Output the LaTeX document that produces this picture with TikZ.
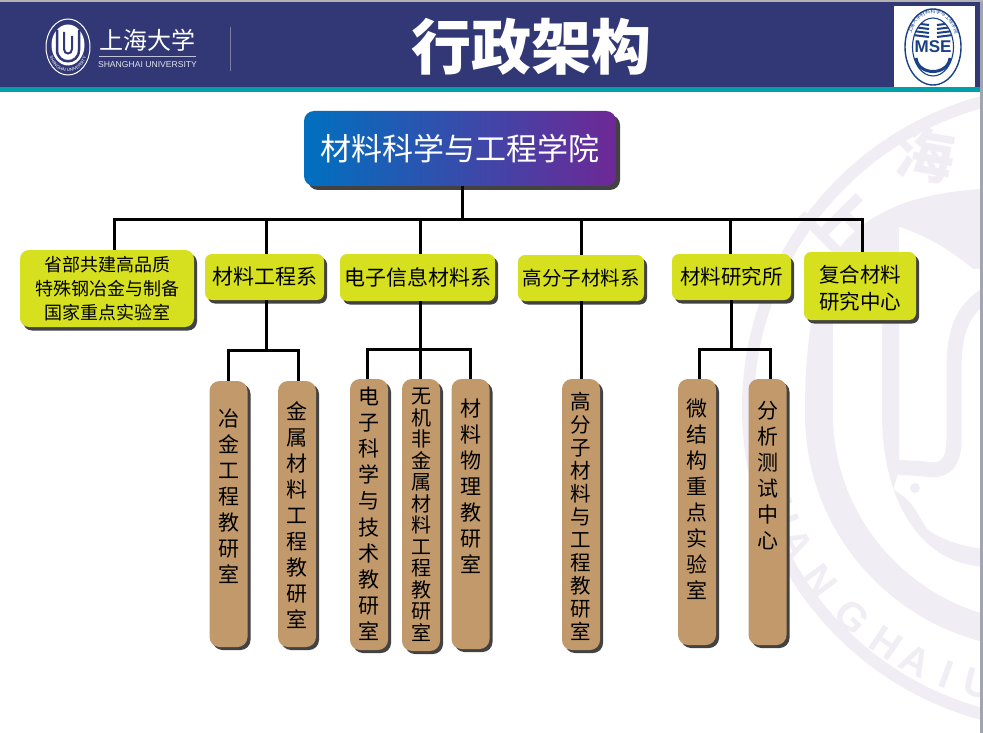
\documentclass[tikz,border=0pt]{standalone}
\usepackage{fontspec}
\newfontfamily\cjk{Noto Sans CJK SC}
\newfontfamily\lat{Liberation Sans}
\usetikzlibrary{shadows,decorations.text}
\definecolor{navybar}{RGB}{50,56,118}
\definecolor{tealbar}{RGB}{0,160,170}
\definecolor{edgegray}{RGB}{160,165,175}
\definecolor{wmark}{RGB}{241,237,245}
\definecolor{deptyellow}{RGB}{214,224,30}
\definecolor{labbrown}{RGB}{194,153,107}
\definecolor{shadowgray}{RGB}{66,66,66}
\definecolor{topblue}{RGB}{0,112,192}
\definecolor{topmid}{RGB}{65,65,155}
\definecolor{toppurple}{RGB}{110,40,150}
\definecolor{msebule}{RGB}{25,65,135}
% vertical label: height, top gap, line distance, size
\newcommand{\labcell}[5][21]{\parbox[c][#2pt][t]{34pt}{\fontsize{#1}{#4}\selectfont\centering\vspace*{#3pt}#5}}
\tikzset{
  conn/.style={line width=3pt, black},
  deptbox/.style={fill=deptyellow, rounded corners=7pt, inner sep=0pt, align=center,
    font=\cjk\fontsize{21}{27}\selectfont,
    drop shadow={shadow xshift=3pt, shadow yshift=-3.5pt, fill=shadowgray, opacity=1, shadow scale=1}},
  labbox/.style={fill=labbrown, rounded corners=10pt, inner sep=0pt, minimum width=38pt, font=\cjk,
    drop shadow={shadow xshift=3pt, shadow yshift=-3pt, fill=shadowgray, opacity=1, shadow scale=1}},
  topbox/.style={left color=topblue, middle color=topmid, right color=toppurple, rounded corners=10pt,
    inner sep=0pt, text=white, font=\cjk\fontsize{31}{36}\selectfont,
    drop shadow={shadow xshift=4pt, shadow yshift=-4pt, fill=shadowgray, opacity=1, shadow scale=1}},
  wmletter/.style={text=wmark, font=\lat\bfseries\fontsize{40}{40}\selectfont}
}
\begin{document}
\begin{tikzpicture}[x=1pt, y=-1pt]
  \useasboundingbox (0,0) rectangle (983,733);
  \fill[white] (0,0) rectangle (983,733);
  % watermark
  \begin{scope}
    \clip (0,92) rectangle (980,733);
    \draw[wmark, line width=12pt] (1065,408) circle (317pt);
    \fill[wmark] (1041,187) .. controls (940,187) and (900,200) .. (867,222)
      .. controls (825,250) and (805,300) .. (805,414)
      .. controls (805,544) and (911,649) .. (1041,649) -- cycle;
    \fill[white] (833,300) -- (833,414) .. controls (833,528) and (927,622) .. (1041,622)
      -- (1041,269) -- (973,269) .. controls (950,250) and (925,235) .. (899,227) -- (899,300) -- cycle;
    \fill[wmark] (882,290) -- (882,414) .. controls (882,500) and (920,567) .. (990,567) -- (990,550)
      .. controls (950,545) and (935,535) .. (927,529) .. controls (915,510) and (910,497) .. (893,490)
      -- (899,470) -- (899,290) -- cycle;
    \draw[wmark, line width=15pt] (995,290) .. controls (965,305) and (954,325) .. (954,370) -- (954,440)
      .. controls (954,468) and (940,472) .. (925,469) -- (895,467);
    \fill[wmark] (915,488) circle (5pt);
    \node[text=wmark, rotate=-45, font=\cjk\bfseries\fontsize{66}{66}\selectfont] (wmshang) at (840,219) {上};
    \node[text=wmark, rotate=-10, font=\cjk\bfseries\fontsize{58}{58}\selectfont] (wmhai) at (926,155) {海};
    \foreach \ltr/\ang in {S/76, H/69, A/62, N/53, G/43, H/34, A/27, I/20, U/13}
      \node[wmletter, rotate=-\ang] at ({1041-277*sin(\ang)},{414+277*cos(\ang)}) {\ltr};
  \end{scope}
  % header band
  \fill[edgegray] (980,0) rectangle (983,733);
  \fill[black!30] (0,0) rectangle (983,2);
  \fill[navybar] (0,2) rectangle (980,87);
  \fill[tealbar] (0,87) rectangle (980,92);
  \node[text=white, font=\cjk\bfseries\fontsize{60}{60}\selectfont] (title) at (531,47) {行政架构};
  % university logo
  \draw[white, line width=1pt] (68,47) ellipse (22pt and 28pt);
  \fill[white] (68,45) ellipse (16.5pt and 20.5pt);
  \draw[navybar, line width=2.5pt] (57,30) -- (57,50) .. controls (57,65) and (79,65) .. (79,50) -- (79,30);
  \draw[navybar, line width=2pt] (64,32) -- (64,49) .. controls (64,55) and (72,55) .. (72,49) -- (72,36);
  \path[decorate, decoration={text along path, text align=center,
      text={|\lat\fontsize{4.4}{5}\selectfont\color{white}|SHANGHAI UNIVERSITY}}]
    (48,45) .. controls (48,62) and (56,71.5) .. (68,71.5) .. controls (80,71.5) and (88,62) .. (88,45);
  \node[text=white, font=\cjk\fontsize{24}{24}\selectfont] (shutext) at (147,40) {上海大学};
  \draw[white!70!navybar, line width=0.7pt] (99,56) -- (196,56);
  \node[text=white!85!navybar, font=\lat\fontsize{8.6}{9}\selectfont] (shuname) at (147.5,65) {SHANGHAI UNIVERSITY};
  \draw[white!35!navybar, line width=1pt] (230,27) -- (230,71);
  % MSE logo
  \fill[white] (894,6) rectangle (975,87);
  \draw[msebule, line width=1.4pt] (933,47) ellipse (28pt and 38pt);
  \draw[msebule, line width=1.1pt] (933,47) ellipse (20.5pt and 29pt);
  \begin{scope}
    \clip (933,47) ellipse (20.5pt and 29pt);
    \foreach \yy in {22,26,30,34}
      \draw[msebule, line width=2pt] (905,\yy) -- (929,\yy+3) (937,\yy+3) -- (961,\yy);
    \draw[msebule, line width=3pt] (916,58) .. controls (918,76) and (948,76) .. (950,58);
  \end{scope}
  \node[text=msebule, font=\lat\bfseries\fontsize{17}{17}\selectfont] (msetext) at (933,47) {MSE};
  \path[decorate, decoration={text along path, text align=center,
      text={|\cjk\fontsize{5}{6}\selectfont\color{msebule}|上海大学材料科学与工程学院}}]
    (909.5,50) .. controls (909,25) and (920,13.5) .. (933,13.5) .. controls (946,13.5) and (957,25) .. (956.5,50);
  % college and departments
  \node[topbox, minimum width=312pt, minimum height=75pt] (college) at (460,148.5) {材料科学与工程学院};
  \coordinate (bus) at (462,219);
  \draw[conn] ([xshift=2pt]college.south) -- (bus);
  \node[deptbox, minimum width=174pt, minimum height=77pt, rounded corners=9pt,
    font=\cjk\fontsize{18}{24}\selectfont] (steellab) at (107,288.5)
    {省部共建高品质\\特殊钢冶金与制备\\国家重点实验室};
  \node[deptbox, minimum width=119pt, minimum height=46pt] (matdept) at (264.5,277) {材料工程系};
  \node[deptbox, minimum width=155pt, minimum height=47pt] (elecdept) at (417.5,277.5) {电子信息材料系};
  \node[deptbox, minimum width=126pt, minimum height=46pt, font=\cjk\fontsize{19.5}{24}\selectfont] (polydept) at (581,278) {高分子材料系};
  \node[deptbox, minimum width=119pt, minimum height=46pt, font=\cjk\fontsize{20.5}{24}\selectfont] (matinst) at (731.5,277) {材料研究所};
  \node[deptbox, font=\cjk\fontsize{20.5}{27}\selectfont] (compcenter) at (860,286)
    {\parbox[c][68pt][c]{112pt}{\centering\vspace*{5pt}复合材料\\研究中心}};
  % bus to departments
  \draw[conn] (bus) -| ([xshift=7pt]steellab.north);
  \draw[conn] (bus) -| ([xshift=1.5pt]matdept.north);
  \draw[conn] (bus) -| ([xshift=2.5pt]elecdept.north);
  \draw[conn] (bus) -| (polydept.north);
  \draw[conn] (bus) -| ([xshift=-1.5pt]matinst.north);
  \draw[conn] (bus) -| ([xshift=2pt]compcenter.north);
  % teaching groups
  \node[labbox] (metallurgy) at (228.5,514) {\labcell{266}{27.5}{26}{冶\\金\\工\\程\\教\\研\\室}};
  \node[labbox] (metalmat) at (297,514) {\labcell{266}{20.5}{26}{金\\属\\材\\料\\工\\程\\教\\研\\室}};
  \node[labbox] (electech) at (369,514.5) {\labcell{271}{7.5}{26.2}{电\\子\\科\\学\\与\\技\\术\\教\\研\\室}};
  \node[labbox] (inorganic) at (421,515) {\labcell[20]{272}{9.5}{21.5}{无\\机\\非\\金\\属\\材\\料\\工\\程\\教\\研\\室}};
  \node[labbox] (matphys) at (470.5,514) {\labcell{270}{19.5}{26}{材\\料\\物\\理\\教\\研\\室}};
  \node[labbox] (polygroup) at (581,514.5) {\labcell[20.5]{271}{13.5}{23}{高\\分\\子\\材\\料\\与\\工\\程\\教\\研\\室}};
  \node[labbox] (microlab) at (697,512) {\labcell{266}{19.5}{26}{微\\结\\构\\重\\点\\实\\验\\室}};
  \node[labbox] (analysis) at (767.5,512) {\labcell{266}{22}{26}{分\\析\\测\\试\\中\\心}};
  % departments to groups
  \coordinate (matjoin) at (266,350);
  \draw[conn] ([xshift=1.5pt]matdept.south) -- (matjoin);
  \draw[conn] (matjoin) -| (metallurgy.north);
  \draw[conn] (matjoin) -| ([xshift=1pt]metalmat.north);
  \coordinate (elecjoin) at (420,349);
  \draw[conn] ([xshift=2.5pt]elecdept.south) -- (elecjoin);
  \draw[conn] (elecjoin) -| ([xshift=-2pt]electech.north);
  \draw[conn] (elecjoin) -- ([xshift=-1pt]inorganic.north);
  \draw[conn] (elecjoin) -| (matphys.north);
  \draw[conn] (polydept.south) -- (polygroup.north);
  \coordinate (instjoin) at (731,349);
  \draw[conn] ([xshift=-0.5pt]matinst.south) -- (instjoin);
  \draw[conn] (instjoin) -| ([xshift=2pt]microlab.north);
  \draw[conn] (instjoin) -| ([xshift=3pt]analysis.north);
\end{tikzpicture}
\end{document}
